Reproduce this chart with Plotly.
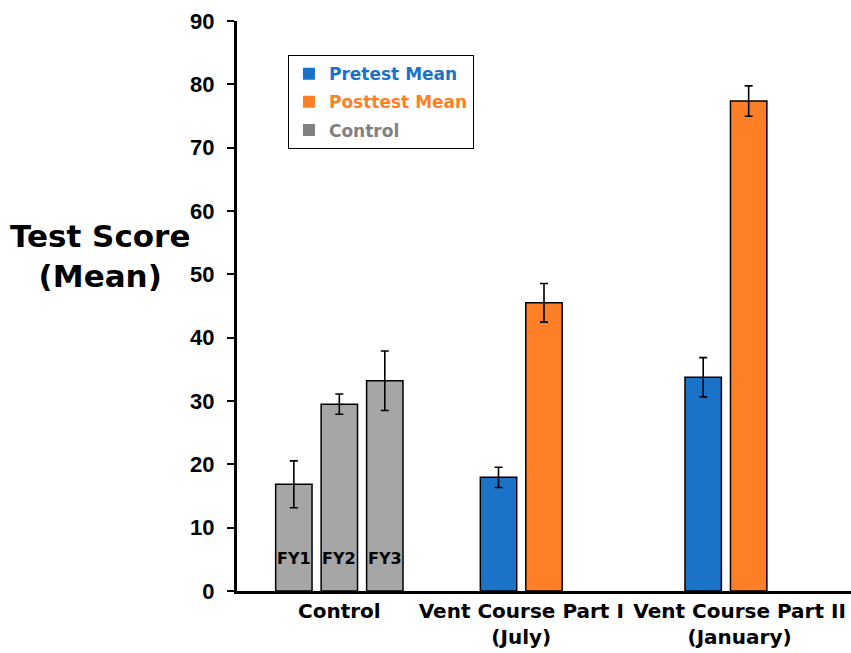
import plotly.graph_objects as go

# ---- data ----
control_labels = ["FY1", "FY2", "FY3"]
control_means = [16.85, 29.5, 33.2]
control_err = [3.7, 1.6, 4.7]

group_labels = ["Control", "Vent Course Part I<br>(July)", "Vent Course Part II<br>(January)"]
pretest_means = [17.95, 33.75]
pretest_err = [1.6, 3.1]
posttest_means = [45.5, 77.35]
posttest_err = [3.05, 2.4]

y_ticks = [0, 10, 20, 30, 40, 50, 60, 70, 80, 90]

# ---- layout positions (group centres on a numeric axis) ----
group_centres = [1.0, 5.0, 9.5]
ctrl_x = [group_centres[0] + d for d in (-1, 0, 1)]
pre_x = [c - 0.5 for c in group_centres[1:]]
post_x = [c + 0.5 for c in group_centres[1:]]
label_x = [group_centres[0], group_centres[1], group_centres[2] + 0.3]

BLUE = "#1a73c8"
ORANGE = "#ff7f27"
GRAY = "#a6a6a6"
GRAY_LEG = "#808080"
FONT = "DejaVu Sans, Arial, sans-serif"
FONT_ARIAL = "Liberation Sans, Arial, sans-serif"

err_style = dict(type="data", visible=True, color="black", thickness=1.6, width=4)
line_style = dict(color="black", width=1.5)

fig = go.Figure()
fig.add_trace(go.Bar(
    x=ctrl_x, y=control_means, width=0.8,
    error_y=dict(array=control_err, **err_style),
    marker=dict(color=GRAY, line=line_style),
    showlegend=False, hoverinfo="skip"))
fig.add_trace(go.Bar(
    x=pre_x, y=pretest_means, width=0.8,
    error_y=dict(array=pretest_err, **err_style),
    marker=dict(color=BLUE, line=line_style),
    showlegend=False, hoverinfo="skip"))
fig.add_trace(go.Bar(
    x=post_x, y=posttest_means, width=0.8,
    error_y=dict(array=posttest_err, **err_style),
    marker=dict(color=ORANGE, line=line_style),
    showlegend=False, hoverinfo="skip"))

# legend-only entries
for name, col in [("Pretest Mean", BLUE), ("Posttest Mean", ORANGE), ("Control", GRAY_LEG)]:
    fig.add_trace(go.Bar(
        x=[None], y=[None], legendgroup=name,
        name=f"<span style='color:{col}'>{name}</span>",
        marker=dict(color=col, line=dict(width=0))))

annotations = [dict(
    text="Test Score<br>(Mean)", xref="paper", yref="paper",
    x=-0.223, y=0.588, xanchor="center", yanchor="middle",
    showarrow=False, align="center",
    font=dict(family=FONT, size=31, color="black", weight="bold"))]
for xv, lab in zip(ctrl_x, control_labels):
    annotations.append(dict(
        text=lab, x=xv, y=0, xref="x", yref="y", yanchor="middle",
        yshift=33, showarrow=False,
        font=dict(family=FONT, size=16, color="black", weight="bold")))

fig.update_layout(
    width=851, height=653,
    margin=dict(l=237, r=0, t=21, b=62),
    paper_bgcolor="white", plot_bgcolor="white",
    barmode="overlay",
    font=dict(family=FONT, color="black"),
    showlegend=True,
    legend=dict(
        x=0.083, y=0.94, xanchor="left", yanchor="top",
        bordercolor="black", borderwidth=1, bgcolor="white",
        font=dict(family=FONT, size=17, weight="bold"),
        tracegroupgap=3, itemwidth=30),
    xaxis=dict(
        range=[-1.25, 12.25], showgrid=False, zeroline=False, automargin=False,
        tickvals=label_x, ticktext=group_labels, ticks="",
        tickfont=dict(family=FONT, size=20, color="black", weight="bold"),
        showline=True, linecolor="black", linewidth=3),
    yaxis=dict(
        range=[0, 90], tickvals=y_ticks, showgrid=False, zeroline=False, automargin=False,
        ticks="outside", ticklen=7, tickwidth=1.5, tickcolor="black",
        ticklabelstandoff=8,
        tickfont=dict(family=FONT_ARIAL, size=22, color="black", weight="bold"),
        showline=True, linecolor="black", linewidth=3),
    annotations=annotations,
)

fig.write_html("out.html", config={"displayModeBar": False},
               post_script="document.body.style.margin='0';")
